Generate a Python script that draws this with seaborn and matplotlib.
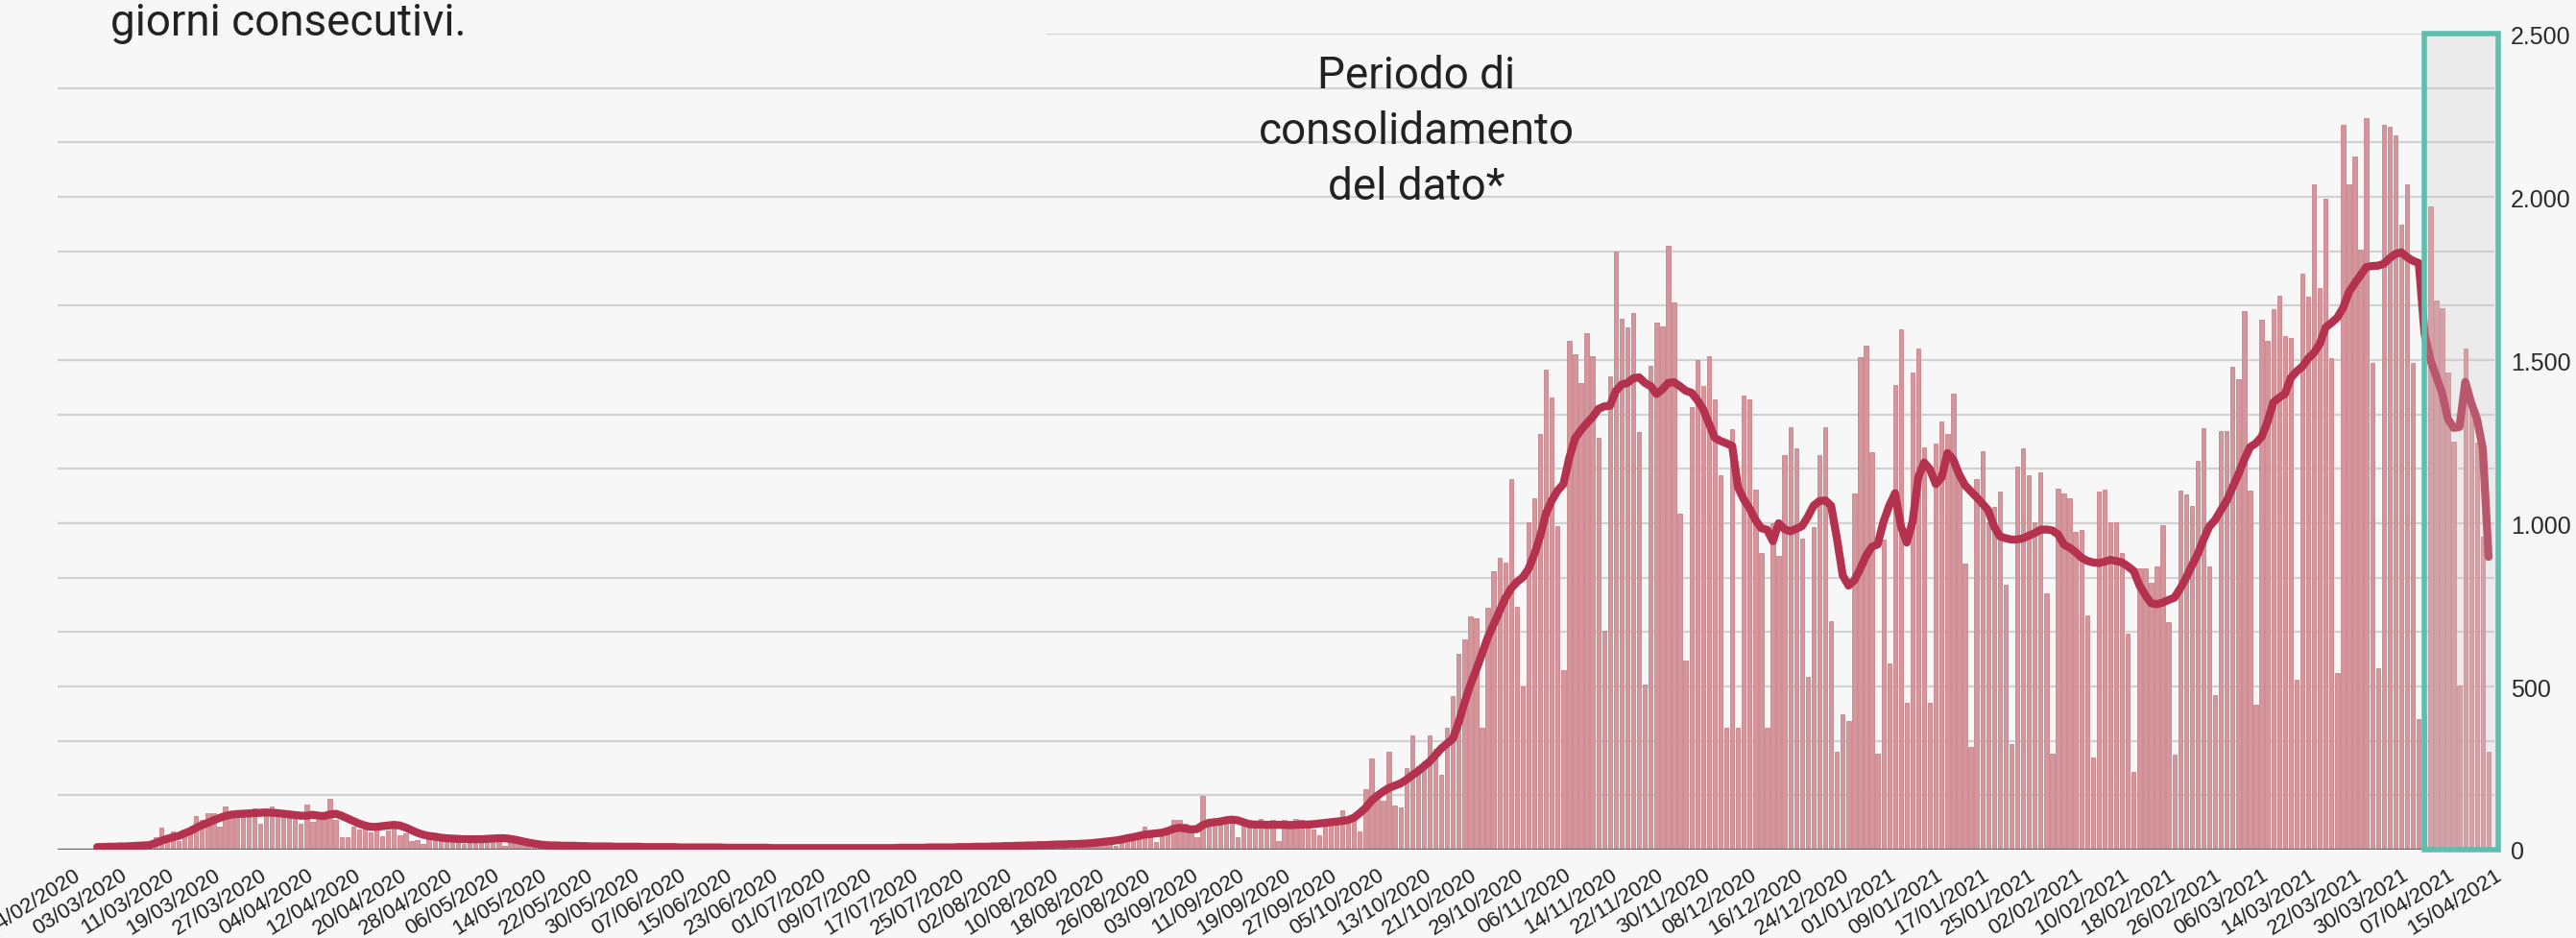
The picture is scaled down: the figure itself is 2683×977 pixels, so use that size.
import numpy as np
import pandas as pd
import matplotlib
matplotlib.use("Agg")
import matplotlib.pyplot as plt
import seaborn as sns
from matplotlib.patches import Rectangle
from matplotlib.ticker import MultipleLocator, FuncFormatter

# origine dell'asse (prima etichetta) e primo giorno con dati
ORIGINE = pd.Timestamp("2020-02-24")
PRIMO_GIORNO = "2020-02-28"
ULTIMA_ETICHETTA = pd.Timestamp("2021-04-15")
INIZIO_CONSOLIDAMENTO = 404.0   # giorni dall'origine
FINE_CONSOLIDAMENTO = 416.7

# casi giornalieri, una riga per settimana
casi_giornalieri = [
    4, 6, 8, 9, 10, 12, 11,
    9, 15, 25, 38, 67, 42, 57,
    27, 47, 68, 104, 91, 112, 112,
    72, 131, 110, 105, 112, 108, 126,
    80, 110, 131, 108, 105, 112, 100,
    80, 139, 86, 90, 100, 156, 91,
    39, 39, 72, 62, 70, 53, 75,
    40, 60, 82, 45, 50, 27, 30,
    18, 35, 32, 30, 28, 32, 30,
    18, 34, 32, 35, 30, 36, 38,
    12, 35, 30, 22, 20, 15, 14,
    6, 14, 12, 10, 12, 11, 10,
    5, 12, 10, 9, 11, 8, 9,
    4, 10, 9, 8, 10, 9, 7,
    3, 9, 8, 8, 9, 7, 8,
    3, 8, 7, 6, 8, 7, 6,
    2, 7, 6, 6, 7, 5, 6,
    2, 6, 5, 6, 5, 4, 5,
    1, 5, 4, 5, 6, 4, 5,
    2, 5, 6, 5, 6, 5, 6,
    2, 7, 6, 8, 7, 6, 8,
    3, 9, 8, 10, 9, 8, 11,
    4, 11, 12, 14, 12, 13, 15,
    5, 16, 15, 18, 17, 16, 19,
    7, 20, 22, 21, 24, 25, 28,
    12, 30, 34, 38, 45, 72, 50,
    25, 55, 60, 91, 91, 80, 70,
    38, 165, 72, 85, 95, 91, 100,
    38, 95, 90, 80, 95, 88, 92,
    26, 91, 88, 95, 92, 85, 62,
    45, 75, 85, 90, 120, 85, 95,
    55, 186, 280, 175, 150, 300, 136,
    130, 250, 350, 255, 270, 350, 310,
    230, 375, 470, 600, 645, 715, 710,
    375, 742, 853, 893, 880, 1136, 745,
    500, 1004, 1077, 1274, 1470, 1384, 991,
    551, 1560, 1517, 1429, 1583, 1511, 1262,
    670, 1450, 1832, 1627, 1601, 1645, 1280,
    507, 1482, 1614, 1604, 1849, 1677, 1029,
    579, 1356, 1500, 1420, 1513, 1379, 1148,
    375, 1287, 375, 1391, 1379, 1104, 909,
    375, 1000, 900, 1208, 1293, 1230, 954,
    528, 989, 1209, 1293, 700, 300, 415,
    394, 1092, 1510, 1545, 1218, 293, 950,
    570, 1425, 1595, 450, 1463, 1535, 1233,
    450, 1243, 1312, 1274, 1396, 1150, 876,
    315, 1136, 1220, 1004, 1050, 1098, 813,
    325, 1174, 1230, 1148, 1004, 1155, 784,
    293, 1107, 1090, 1077, 975, 979, 717,
    281, 1098, 1104, 1002, 1002, 909, 661,
    238, 861, 861, 817, 869, 995, 698,
    290, 1099, 1087, 1054, 1192, 1292, 869,
    475, 1282, 1282, 1478, 1440, 1651, 1099,
    445, 1623, 1559, 1656, 1696, 1574, 1567,
    520, 1764, 1693, 2039, 1720, 1993, 1507,
    542, 2220, 2039, 2124, 1838, 2240, 1492,
    557, 2220, 2216, 2187, 1916, 2039, 1492,
    401, 416, 1972, 1683, 1660, 1462, 1250,
    504, 1536, 1351, 1247, 958, 300,
]

# media mobile a 7 giorni, stessa scansione
media_mobile = [
    8, 8, 9, 9, 10, 10, 11,
    12, 13, 14, 20, 27, 33, 38,
    42, 50, 57, 67, 75, 82, 90,
    97, 103, 107, 109, 110, 111, 112,
    113, 114, 113, 112, 110, 108, 106,
    104, 104, 107, 104, 103, 108, 110,
    104, 96, 88, 80, 74, 70, 70,
    72, 74, 76, 74, 68, 60, 52,
    46, 42, 40, 37, 35, 34, 33,
    32, 32, 32, 32, 33, 34, 35,
    35, 33, 30, 26, 22, 19, 16,
    14, 13, 13, 12, 12, 12, 11,
    11, 10, 10, 10, 10, 9, 9,
    9, 9, 9, 8, 8, 8, 8,
    8, 8, 7, 7, 7, 7, 7,
    7, 7, 7, 6, 6, 6, 6,
    6, 6, 6, 6, 5, 5, 5,
    5, 5, 5, 5, 5, 5, 5,
    5, 5, 5, 5, 5, 5, 5,
    5, 5, 5, 5, 5, 6, 6,
    6, 6, 6, 7, 7, 7, 7,
    7, 8, 8, 8, 9, 9, 9,
    10, 10, 11, 11, 12, 12, 13,
    13, 14, 14, 15, 16, 16, 17,
    17, 18, 19, 20, 22, 24, 26,
    28, 31, 35, 38, 42, 46, 48,
    50, 52, 57, 64, 67, 65, 62,
    63, 75, 82, 84, 86, 90, 92,
    90, 84, 78, 77, 77, 76, 76,
    76, 76, 75, 76, 77, 77, 78,
    80, 82, 84, 86, 88, 91, 98,
    112, 128, 150, 165, 178, 189, 196,
    203, 214, 228, 240, 255, 270, 290,
    310, 325, 340, 390, 450, 505, 550,
    600, 650, 690, 730, 770, 800, 820,
    834, 860, 905, 960, 1030, 1070, 1100,
    1120, 1200, 1260, 1285, 1306, 1325, 1350,
    1358, 1360, 1405, 1425, 1430, 1444, 1447,
    1430, 1420, 1396, 1410, 1430, 1432, 1420,
    1406, 1400, 1378, 1350, 1306, 1262, 1252,
    1245, 1237, 1110, 1073, 1045, 1010, 985,
    980, 945, 1000, 982, 975, 983, 991,
    1020, 1054, 1068, 1070, 1054, 954, 840,
    809, 825, 860, 900, 928, 935, 1004,
    1054, 1092, 991, 941, 1004, 1142, 1186,
    1165, 1120, 1140, 1215, 1195, 1150, 1117,
    1098, 1080, 1060, 1040, 990, 960, 954,
    950, 950, 954, 962, 970, 980, 981,
    978, 966, 935, 925, 912, 895, 885,
    880, 878, 882, 888, 884, 880, 868,
    854, 810, 780, 755, 752, 757, 765,
    772, 800, 832, 870, 905, 950, 990,
    1010, 1040, 1069, 1110, 1150, 1195, 1233,
    1245, 1265, 1310, 1370, 1385, 1396, 1445,
    1465, 1480, 1505, 1522, 1550, 1600, 1614,
    1630, 1660, 1708, 1735, 1760, 1785, 1788,
    1789, 1795, 1812, 1825, 1830, 1815, 1804,
    1797, 1580, 1500, 1450, 1400, 1320, 1292,
    1295, 1433, 1370, 1320, 1230, 897,
]

y_ticks = [0, 500, 1000, 1500, 2000, 2500]

BG = "#f7f7f7"
BAR = "#d8949b"
BAR_EDGE = "#c3858c"
LINE = "#b5324e"
TEAL = "#5dbfb0"
TXT = "#222222"

W, H, DPI = 2683, 978, 100

dates = pd.date_range(PRIMO_GIORNO, periods=len(casi_giornalieri))
df = pd.DataFrame({
    "giorno": (dates - ORIGINE).days,
    "casi": casi_giornalieri,
    "media": media_mobile,
})

sns.set_theme(style="white")
plt.rcParams["font.family"] = ["Liberation Sans", "DejaVu Sans"]

fig = plt.figure(figsize=(W / DPI, H / DPI), dpi=DPI, facecolor=BG)
ax = fig.add_axes([60 / W, 92 / H, (2598 - 60) / W, 850 / H])
ax.set_facecolor(BG)

sns.barplot(data=df, x="giorno", y="casi", native_scale=True, width=0.72,
            color=BAR, saturation=1, errorbar=None, edgecolor=BAR_EDGE,
            linewidth=0.6, ax=ax, zorder=2)
sns.lineplot(data=df, x="giorno", y="media", color=LINE, lw=6, ax=ax,
             zorder=3, solid_capstyle="round", solid_joinstyle="round")

ax.axhline(0, color="#6b6b6b", lw=2.4, zorder=2.5)

# periodo di consolidamento
span = FINE_CONSOLIDAMENTO - INIZIO_CONSOLIDAMENTO
ax.add_patch(Rectangle((INIZIO_CONSOLIDAMENTO, 0), span, 2500,
                       facecolor="#c8c8c8", alpha=0.25, edgecolor="none",
                       zorder=4, clip_on=False))
ax.add_patch(Rectangle((INIZIO_CONSOLIDAMENTO, 0), span, 2500, fill=False,
                       edgecolor=TEAL, lw=4, zorder=5, clip_on=False))

# assi
tick_days = np.arange(0, (ULTIMA_ETICHETTA - ORIGINE).days + 1, 8)
tick_labels = [(ORIGINE + pd.Timedelta(days=int(d))).strftime("%d/%m/%Y")
               for d in tick_days]
ax.set_xlim(-2.8, 416.0)
ax.set_xticks(tick_days)
ax.set_xticklabels(tick_labels, rotation=32, ha="right", va="top",
                   rotation_mode="anchor", fontsize=16, color="#1e1e1e")
ax.tick_params(axis="x", length=0, pad=11)

ax.set_ylim(0, 2500)
ax.yaxis.tick_right()
ax.set_yticks(y_ticks)
ax.yaxis.set_minor_locator(MultipleLocator(2500 / 15))
ax.yaxis.set_major_formatter(
    FuncFormatter(lambda v, _: f"{int(v):,}".replace(",", ".")))
ax.tick_params(axis="y", which="both", length=0, pad=12, labelsize=18,
               labelcolor="#2a2a2a")
ax.grid(axis="y", which="both", color="#d2d2d2", lw=1.6)
ax.grid(axis="x", visible=False)
ax.set_axisbelow(True)
ax.set_xlabel("")
ax.set_ylabel("")
for s in ax.spines.values():
    s.set_visible(False)

# area del sottotitolo che copre la griglia in alto
fig.add_artist(Rectangle((0, (H - 62) / H), 1090 / W, 62 / H,
                         transform=fig.transFigure, facecolor=BG,
                         edgecolor="none", zorder=10))
fig.text(115 / W, (H - 37) / H, "giorni consecutivi.", fontsize=33,
         family="Roboto", color=TXT, va="baseline", zorder=11)
fig.text(1475 / W, (H - 57) / H, "Periodo di\nconsolidamento\ndel dato*",
         ha="center", va="top", multialignment="center", fontsize=33,
         family="Roboto", color=TXT, linespacing=1.4, zorder=11)

fig.savefig("out.png", dpi=DPI, facecolor=BG)
